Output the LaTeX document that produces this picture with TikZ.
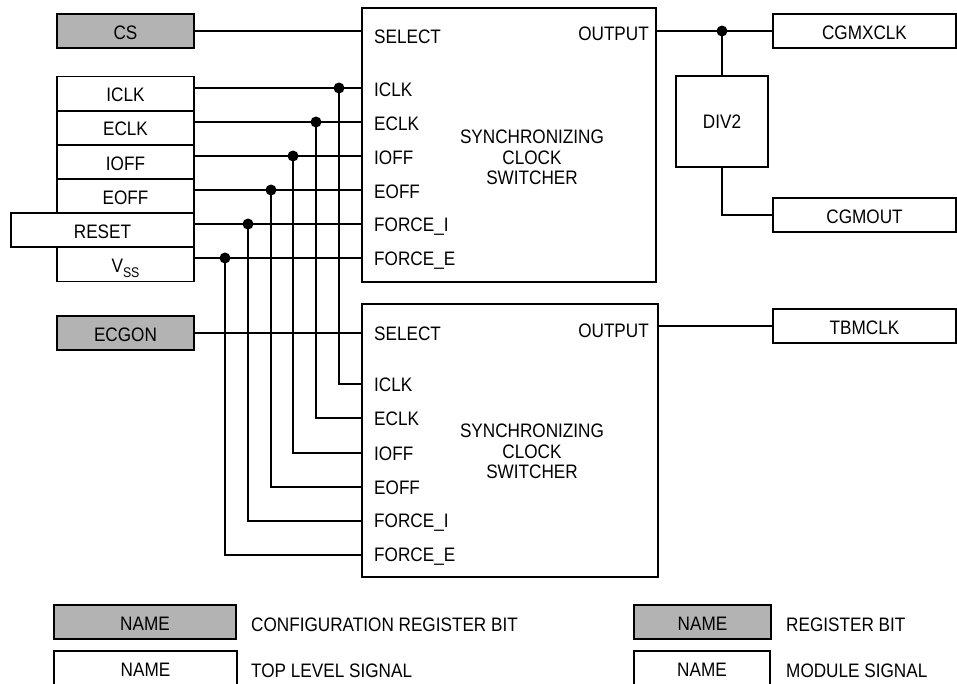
\documentclass[tikz,border=0pt]{standalone}
\usepackage{fontspec}
\setmainfont[FakeStretch=0.88]{Liberation Sans}
\definecolor{regbit}{RGB}{179, 179, 179}

\begin{document}
\begin{tikzpicture}[
        x=1pt, y=-1pt,
        font=\fontsize{19.5}{20.3}\selectfont,
        sig/.style={draw, line width=1.7pt, minimum height=34pt, text height=16pt, text depth=0pt, inner sep=0pt},
        cfg/.style={sig, fill=regbit},
        sw/.style={draw, line width=1.7pt, inner sep=0pt},
        port/.style={anchor=base west, inner sep=0pt},
        wire/.style={line width=1.7pt},
        dot/.style={circle, fill, inner sep=0pt, minimum size=11pt}
      ]
        \clip (0,0) rectangle (957,683);
        % inputs
        \node[cfg, minimum width=137pt] (cs)    at (125.5,31) {CS};
        \node[sig, minimum width=137pt] (iclk)  at (125.5,93.4) {ICLK};
        \node[sig, minimum width=137pt] (eclk)  at (125.5,127.8) {ECLK};
        \node[sig, minimum width=137pt] (ioff)  at (125.5,162) {IOFF};
        \node[sig, minimum width=137pt] (eoff)  at (125.5,196.2) {EOFF};
        \node[sig, minimum width=183pt] (reset) at (102.5,230.3) {RESET};
        \node[sig, minimum width=137pt] (vss)   at (125.5,264.5) {V\raisebox{-5pt}{\fontsize{14}{14}\selectfont SS}};
        \node[cfg, minimum width=137pt] (ecgon) at (125.5,333) {ECGON};
        % switchers
        \node[sw, minimum width=294pt, minimum height=274pt] (sw1) at (509,145) {};
        \node[sw, minimum width=296pt, minimum height=273pt] (sw2) at (510,440.5) {};
        \node[align=center] (sw1-txt) at (532,157.5) {SYNCHRONIZING\\CLOCK\\SWITCHER};
        \node[align=center] (sw2-txt) at (532,451.5) {SYNCHRONIZING\\CLOCK\\SWITCHER};
        \foreach \lbl/\ya/\yb in {SELECT/43/340, ICLK/96/391.7, ECLK/130/425.7, IOFF/164/460, EOFF/198/494, FORCE\_I/231.5/527.7, FORCE\_E/265.5/561} {
          \node[port] at (374,\ya) {\lbl};
          \node[port] at (374,\yb) {\lbl};
        }
        \node[port, anchor=base east] (out1) at (649,40) {OUTPUT};
        \node[port, anchor=base east] (out2) at (649,337.3) {OUTPUT};
        % outputs
        \node[sig, minimum width=183pt] (cgmxclk) at (864.5,31) {CGMXCLK};
        \node[sig, minimum width=183pt] (cgmout)  at (864.5,215) {CGMOUT};
        \node[sig, minimum width=183pt] (tbmclk)  at (864.5,326) {TBMCLK};
        \node[sw, minimum width=92pt, minimum height=91pt] (div) at (722,121.5) {DIV2};
        \node[dot] (j-out) at (722,31) {};
        \draw[wire] (sw1.east |- cgmxclk) -- (cgmxclk.west);
        \draw[wire] (j-out.center) -- (div.north);
        \draw[wire] (div.south) |- (cgmout.west);
        \draw[wire] (sw2.east |- tbmclk) -- (tbmclk.west);
        % select lines
        \draw[wire] (cs.east) -- (cs.east -| sw1.west);
        \draw[wire] (ecgon.east) -- (ecgon.east -| sw2.west);
        % shared inputs
        \foreach \src/\x/\ya/\yb in {iclk/339/88/384, eclk/316/122/418, ioff/293/156/453, eoff/271/190/487, reset/248/224/521, vss/225/258/555} {
          \coordinate (p1-\src) at (362,\ya);
          \coordinate (p2-\src) at (362,\yb);
          \node[dot] (j-\src) at (\x,\ya) {};
          \draw[wire] (\src.east |- p1-\src) -- (p1-\src);
          \draw[wire] (j-\src.center) |- (p2-\src);
        }
        % legend
        \node[cfg, minimum width=182pt] (lg-cfg) at (145,622) {NAME};
        \node[port] (lg-cfg-txt) at (251,631.7) {CONFIGURATION REGISTER BIT};
        \node[sig, minimum width=183pt] (lg-top) at (145.5,668) {NAME};
        \node[port] (lg-top-txt) at (251,677.7) {TOP LEVEL SIGNAL};
        \node[cfg, minimum width=137pt] (lg-reg) at (702.5,622) {NAME};
        \node[port] (lg-reg-txt) at (786,631.7) {REGISTER BIT};
        \node[sig, minimum width=136pt] (lg-mod) at (702,668) {NAME};
        \node[port] (lg-mod-txt) at (786,677.7) {MODULE SIGNAL};
      \end{tikzpicture}
\end{document}
